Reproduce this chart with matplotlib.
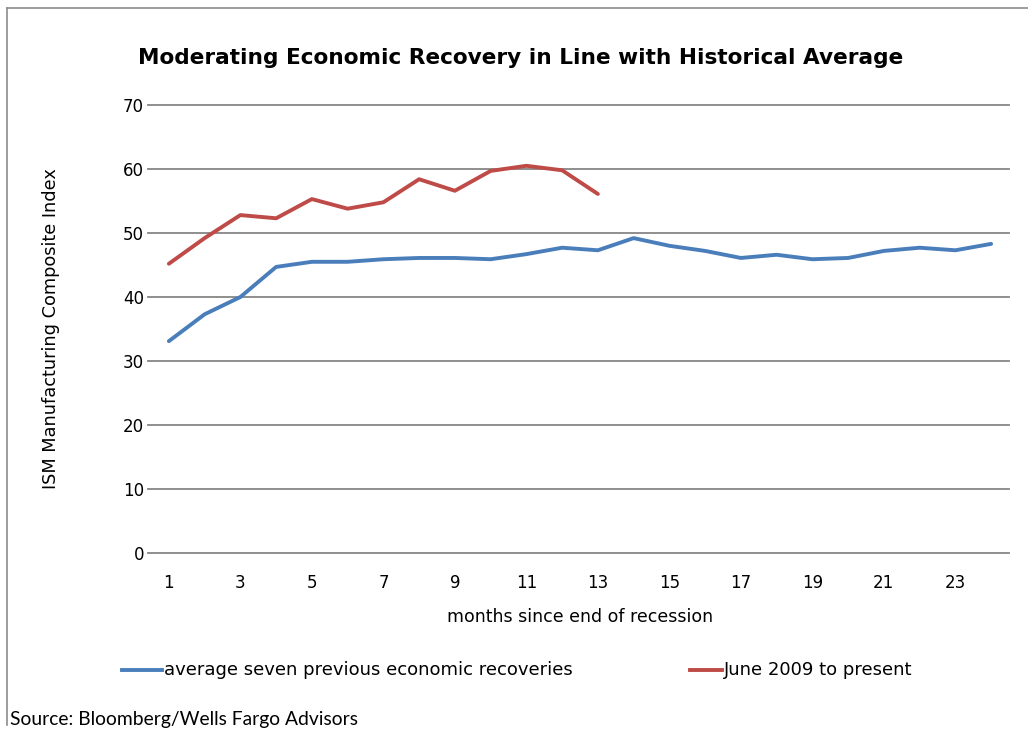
import matplotlib
matplotlib.use("Agg")
import matplotlib.pyplot as plt
from matplotlib.lines import Line2D

months = list(range(1, 25))
avg_prev = [33.1, 37.3, 40.0, 44.7, 45.5, 45.5, 45.9, 46.1, 46.1, 45.9, 46.7, 47.7,
            47.3, 49.2, 48.0, 47.2, 46.1, 46.6, 45.9, 46.1, 47.2, 47.7, 47.3, 48.3]
months_2009 = list(range(1, 14))
june2009 = [45.2, 49.2, 52.8, 52.3, 55.3, 53.8, 54.8, 58.4, 56.6, 59.7, 60.5, 59.8, 56.1]
xticks = list(range(1, 24, 2))
yticks = list(range(0, 71, 10))

blue = "#4A7EBB"
red = "#BE4B48"
grid = "#868686"

fig = plt.figure(figsize=(10.28, 7.31), dpi=100)
ax = fig.add_axes([151/1028, 1-553/731, (1009-151)/1028, (553-105)/731])

for y in yticks:
    ax.axhline(y, xmin=-0.004, color=grid, lw=1.3, zorder=1, clip_on=False)

ax.plot(months, avg_prev, color=blue, lw=2.8, solid_capstyle="round", zorder=3)
ax.plot(months_2009, june2009, color=red, lw=2.8, solid_capstyle="round", zorder=3)

ax.set_xlim(0.5, 24.5)
ax.set_ylim(0, 70)
ax.set_xticks(xticks)
ax.set_yticks(yticks)
for s in ax.spines.values():
    s.set_visible(False)
ax.tick_params(axis="both", length=0, labelsize=12, colors="black")
ax.tick_params(axis="x", pad=15)
ax.tick_params(axis="y", pad=5)

ax.set_xlabel("months since end of recession", fontsize=12.5, labelpad=12)
ax.set_ylabel("ISM Manufacturing Composite Index", fontsize=12.8, labelpad=45)

fig.text(521/1028, 1-58/731, "Moderating Economic Recovery in Line with Historical Average",
         ha="center", va="center", fontsize=15.6, fontweight="bold", family="DejaVu Sans")

# legend
fig.add_artist(Line2D([122/1028, 162/1028], [1-670/731, 1-670/731], color=blue, lw=2.8))
fig.text(164/1028, 1-670/731, "average seven previous economic recoveries", ha="left", va="center", fontsize=13)
fig.add_artist(Line2D([690/1028, 722/1028], [1-670/731, 1-670/731], color=red, lw=2.8))
fig.text(724/1028, 1-670/731, "June 2009 to present", ha="left", va="center", fontsize=13)

fig.text(10/1028, 1-720/731, "Source: Bloomberg/Wells Fargo Advisors", ha="left", va="center",
         fontsize=13.9, family=["Lato", "DejaVu Sans"])

# chart border
fig.add_artist(Line2D([7/1028, 1], [1-8/731, 1-8/731], color="#8c8c8c", lw=1.2))
fig.add_artist(Line2D([7/1028, 7/1028], [1-8/731, 1-725/731], color="#8c8c8c", lw=1.2))

fig.savefig("out.png", dpi=100)
